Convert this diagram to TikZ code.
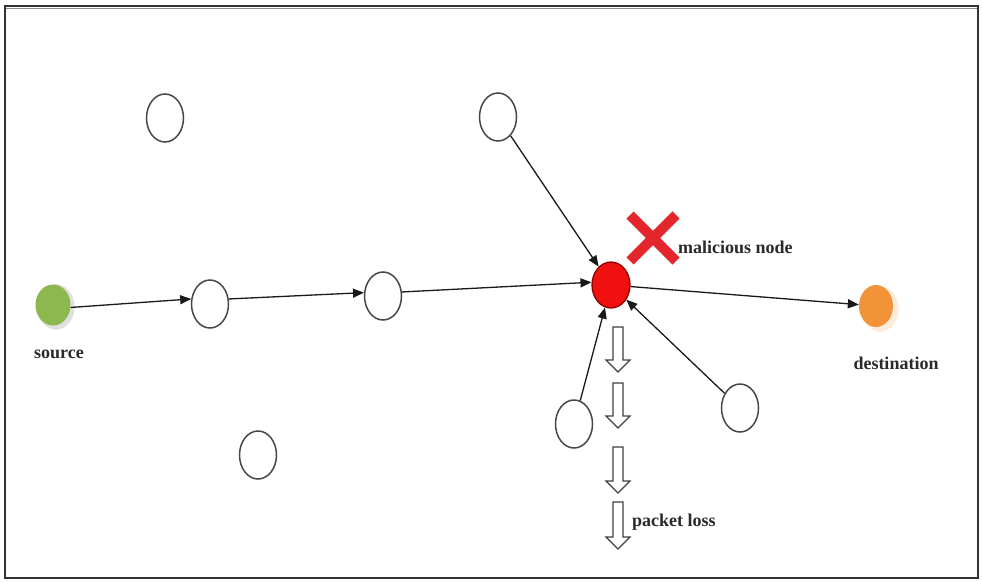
\documentclass[tikz,border=0pt]{standalone}
\usepackage{fontspec}
\setmainfont{Liberation Serif}
\usetikzlibrary{shapes.geometric,arrows.meta}
\definecolor{srcgreen}{HTML}{8DB850}
\definecolor{dstorange}{HTML}{F39339}
\definecolor{malred}{HTML}{F01010}
\definecolor{xred}{HTML}{E3262B}
\definecolor{txt}{HTML}{2A2A2A}
\newcommand\hollowdown[3]{%
  \draw[hollow] (#1-5,#2) -- (#1+5,#2) -- (#1+5,#3-12) -- (#1+12,#3-12) -- (#1,#3) -- (#1-12,#3-12) -- (#1-5,#3-12) -- cycle;}
\tikzset{
  wnode/.style={ellipse, draw=black!72, line width=1.5pt, fill=white, inner sep=0pt, minimum width=37pt, minimum height=48pt},
  halo/.style={ellipse, fill=black!12, draw=white, line width=1.5pt, inner sep=0pt, minimum width=39pt, minimum height=47pt},
  link/.style={draw=black!90, line width=1.3pt, -{Triangle[length=11pt,width=9pt]}},
  lbl/.style={font=\bfseries\fontsize{18}{20}\selectfont, text=txt, inner sep=0pt},
  hollow/.style={draw=black!75, line width=1.2pt, fill=white, line join=miter},
}
\begin{document}
\begin{tikzpicture}[x=1pt,y=-1pt]
\useasboundingbox (0,0) rectangle (982,581);
\fill[white] (0,0) rectangle (982,581);
\draw[black!80, line width=1.4pt] (5,6) rectangle (978,578);
\draw[black!45, line width=0.8pt] (6,8.5) -- (977,8.5);

% source and destination halos
\node[halo] (srchalo) at (56,307) {};
\node[ellipse, fill=srcgreen, inner sep=0pt, minimum width=35pt, minimum height=41pt] (src) at (53,305) {};
\node[halo, fill=dstorange!18] (dsthalo) at (880,309) {};
\node[ellipse, fill=dstorange, inner sep=0pt, minimum width=34pt, minimum height=42pt] (dst) at (876,306) {};

% plain nodes
\node[wnode] (tl) at (165,118) {};
\node[wnode] (tm) at (498,117) {};
\node[wnode] (n1) at (210,304) {};
\node[wnode] (n2) at (383,296) {};
\node[wnode] (bl) at (258,455) {};
\node[wnode] (bm) at (574,424) {};
\node[wnode] (br) at (740,408) {};
\node[ellipse, draw=red!55!black, line width=1.3pt, fill=malred, inner sep=0pt, minimum width=38pt, minimum height=46pt] (mal) at (611,285) {};

% connectors
\draw[link] (src.-8) -- (n1.165);
\draw[link] (n1.15) -- (n2.170);
\draw[link] (n2.12) -- (mal.172);
\draw[link] (tm) -- (mal);
\draw[link] (mal) -- (dst);
\draw[link] (bm) -- (mal);
\draw[link] (br) -- (mal);

% red cross
\coordinate (xc) at (653,238);
\draw[xred, line width=10pt] ([shift={(-23,-23)}]xc) -- ([shift={(23,23)}]xc);
\draw[xred, line width=10pt] ([shift={(23,-23)}]xc) -- ([shift={(-23,23)}]xc);

% hollow arrows (packet loss)
\hollowdown{618}{327}{372}
\hollowdown{618}{383}{428}
\hollowdown{618}{447}{493}
\hollowdown{618}{502}{549}

% labels
\node[lbl] (srclbl) at (59,354) {source};
\node[lbl] (dstlbl) at (896,363) {destination};
\node[lbl, anchor=west] (mallbl) at (678,247) {malicious node};
\node[lbl, anchor=west] (plbl) at (632,522) {packet loss};
\end{tikzpicture}
\end{document}
